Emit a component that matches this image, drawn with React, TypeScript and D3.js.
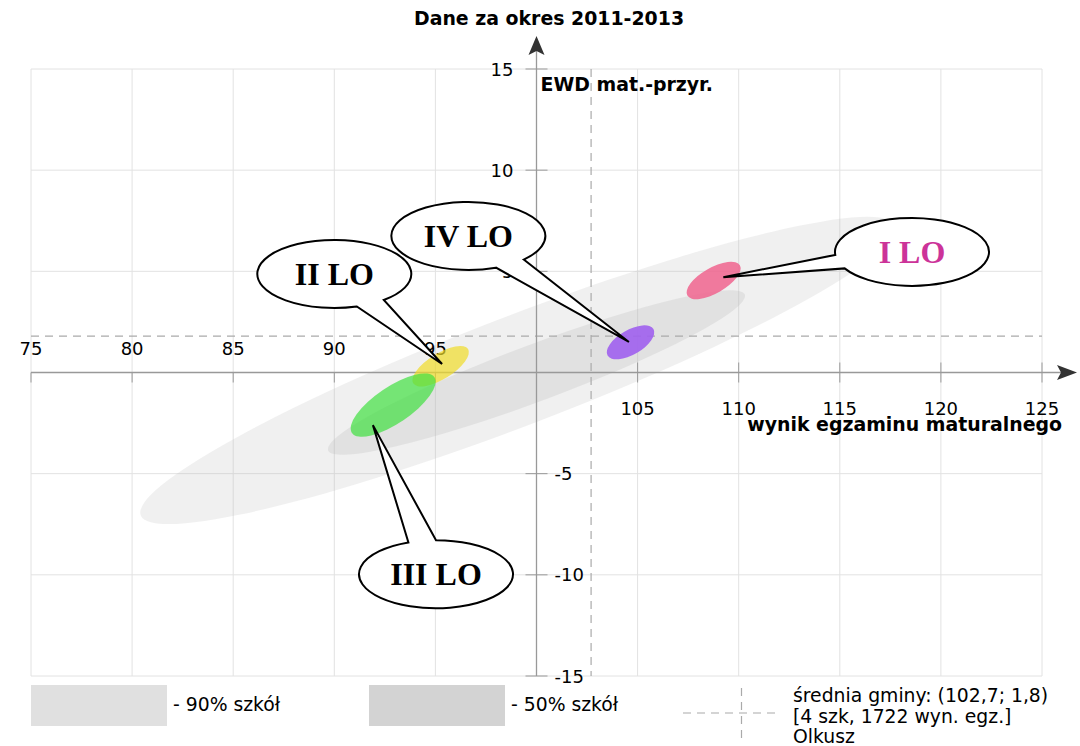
import React, { useEffect, useRef } from 'react';
import * as d3 from 'd3';

const W = 1080, H = 746;
const SANS = "'DejaVu Sans', sans-serif";
const SERIF = "'Liberation Serif', 'Times New Roman', serif";

// axes / grid
const GRID_X = [75, 80, 85, 90, 95, 100, 105, 110, 115, 120, 125];
const GRID_Y = [-15, -10, -5, 0, 5, 10, 15];
const X_TICKS = [75, 80, 85, 90, 95, 105, 110, 115, 120, 125];
const Y_TICKS = [15, 10, 5, -5, -10, -15];

// municipality mean
const MEAN_X = 102.7;
const MEAN_Y = 1.8;

// distribution ellipses (90% / 50% of schools)
const BAND_NAMES = ['90% szkół', '50% szkół'];
const BAND_CX = [99.1, 100.0];
const BAND_CY = [0.1, 0.0];
const BAND_A = [20.0, 11.0];
const BAND_B = [2.7, 1.4];
const BAND_ANGLE = [21, 20.5];

// schools
const SCHOOLS = ['I LO', 'II LO', 'III LO', 'IV LO'];
const SCHOOL_CX = [108.76, 95.26, 92.91, 104.65];
const SCHOOL_CY = [4.55, 0.31, -1.61, 1.49];
const SCHOOL_A = [1.5, 1.6, 2.46, 1.31];
const SCHOOL_B = [0.63, 0.63, 0.9, 0.61];
const SCHOOL_ANGLE = [30, 32, 34, 30];

// callouts
const LABEL_X = [118.57, 90.0, 95.03, 96.63];
const LABEL_Y = [5.96, 4.87, -9.97, 6.75];
const POINTER_X = [109.24, 95.33, 91.91, 104.57];
const POINTER_Y = [4.71, 0.42, -2.6, 1.51];

const SCHOOL_FILL = ['#f0648e', '#f0dc28', '#40e040', '#a060ee'];
const SCHOOL_OPACITY = [0.85, 0.7, 0.7, 0.9];
const TEXT_FILL = ['#cc3399', '#000', '#000', '#000'];
const TAIL_ANGLES = [[151, 175], [50, 73], [249, 270], [44, 69]];
const BUBBLE_RX = 77, BUBBLE_RY = 34;

export default function App() {
  const ref = useRef<SVGSVGElement | null>(null);

  useEffect(() => {
    const svg = d3.select(ref.current);
    svg.selectAll('*').remove();

    const x = d3.scaleLinear().domain([75, 125]).range([31, 1042]);
    const y = d3.scaleLinear().domain([-15, 15]).range([676, 69]);
    const x0 = x(100), y0 = y(0);

    const addEllipse = (g, cx, cy, a, b, angle) => {
      const px = x(cx), py = y(cy);
      return g.append('ellipse')
        .attr('cx', px).attr('cy', py)
        .attr('rx', x(cx + a) - px).attr('ry', py - y(cy + b))
        .attr('transform', `rotate(${-angle} ${px} ${py})`);
    };

    // Grid
    const grid = svg.append('g').attr('stroke', '#e2e2e2').attr('stroke-width', 1);
    GRID_X.forEach(v => grid.append('line')
      .attr('x1', x(v)).attr('x2', x(v)).attr('y1', y(-15)).attr('y2', y(15)));
    GRID_Y.forEach(v => grid.append('line')
      .attr('x1', x(75)).attr('x2', x(125)).attr('y1', y(v)).attr('y2', y(v)));

    // 90% / 50% bands
    const bands = svg.append('g');
    const bandOpacity = [0.22, 0.28];
    BAND_NAMES.forEach((_, i) => {
      addEllipse(bands, BAND_CX[i], BAND_CY[i], BAND_A[i], BAND_B[i], BAND_ANGLE[i])
        .attr('fill', '#bbbbbb').attr('fill-opacity', bandOpacity[i]);
    });

    // Mean lines
    const mean = svg.append('g').attr('stroke', '#aaa').attr('stroke-width', 1.2).attr('stroke-dasharray', '8,6');
    mean.append('line').attr('x1', x(75)).attr('x2', x(125)).attr('y1', y(MEAN_Y)).attr('y2', y(MEAN_Y));
    mean.append('line').attr('x1', x(MEAN_X)).attr('x2', x(MEAN_X)).attr('y1', y(15)).attr('y2', y(-15));

    // Axes
    const axes = svg.append('g');
    axes.append('line').attr('x1', x(75)).attr('x2', x(125) + 20).attr('y1', y0).attr('y2', y0)
      .attr('stroke', '#999').attr('stroke-width', 1.3);
    axes.append('line').attr('x1', x0).attr('x2', x0).attr('y1', y(-15)).attr('y2', y(15) - 18)
      .attr('stroke', '#999').attr('stroke-width', 1.3);
    const xt = x(125) + 35;
    axes.append('path')
      .attr('d', `M${xt},${y0} L${xt - 20},${y0 - 7.5} L${xt - 16},${y0} L${xt - 20},${y0 + 7.5} Z`)
      .attr('fill', '#333');
    const yt = y(15) - 33;
    axes.append('path')
      .attr('d', `M${x0},${yt} L${x0 - 8},${yt + 19} L${x0},${yt + 15} L${x0 + 8},${yt + 19} Z`)
      .attr('fill', '#333');

    const ticks = axes.append('g').attr('stroke', '#999').attr('stroke-width', 1);
    X_TICKS.forEach(v => ticks.append('line')
      .attr('x1', x(v)).attr('x2', x(v)).attr('y1', v < 100 ? y0 : y0 - 10).attr('y2', y0 + 10));
    Y_TICKS.forEach(v => ticks.append('line')
      .attr('x1', x0 - 11).attr('x2', x0 + 11).attr('y1', y(v)).attr('y2', y(v)));

    const labels = axes.append('g').attr('font-family', SANS).attr('font-size', 18).attr('fill', '#000');
    X_TICKS.forEach(v => labels.append('text')
      .attr('x', x(v)).attr('y', v < 100 ? y0 - 17.5 : y0 + 42)
      .attr('text-anchor', 'middle').text(v));
    Y_TICKS.forEach(v => labels.append('text')
      .attr('x', v > 0 ? x0 - 23 : x0 + 18).attr('y', y(v) + 6.5)
      .attr('text-anchor', v > 0 ? 'end' : 'start').text(v));

    // Schools
    const schools = svg.append('g');
    SCHOOLS.forEach((_, i) => {
      addEllipse(schools, SCHOOL_CX[i], SCHOOL_CY[i], SCHOOL_A[i], SCHOOL_B[i], SCHOOL_ANGLE[i])
        .attr('fill', SCHOOL_FILL[i]).attr('fill-opacity', SCHOOL_OPACITY[i]);
    });

    // Callouts
    const callouts = svg.append('g');
    SCHOOLS.forEach((name, i) => {
      const cx = x(LABEL_X[i]), cy = y(LABEL_Y[i]);
      const tx = x(POINTER_X[i]), ty = y(POINTER_Y[i]);
      const pt = (deg) => {
        const r = (deg * Math.PI) / 180;
        return [cx + BUBBLE_RX * Math.cos(r), cy + BUBBLE_RY * Math.sin(r)];
      };
      const [a1, a2] = TAIL_ANGLES[i];
      const p1 = pt(a1), p2 = pt(a2);
      callouts.append('path')
        .attr('d', `M${p2[0]},${p2[1]} A${BUBBLE_RX},${BUBBLE_RY} 0 1 1 ${p1[0]},${p1[1]} L${tx},${ty} Z`)
        .attr('fill', '#fff').attr('stroke', '#000').attr('stroke-width', 2).attr('stroke-linejoin', 'miter');
      callouts.append('text')
        .attr('x', cx).attr('y', cy + 11)
        .attr('text-anchor', 'middle')
        .attr('font-family', SERIF).attr('font-weight', 'bold').attr('font-size', 32)
        .attr('fill', TEXT_FILL[i])
        .text(name);
    });

    // Titles
    const titles = svg.append('g').attr('font-family', SANS).attr('font-weight', 'bold').attr('font-size', 18.9).attr('fill', '#000');
    titles.append('text').attr('x', 549).attr('y', 25).attr('text-anchor', 'middle').text('Dane za okres 2011-2013');
    titles.append('text').attr('x', x0 + 4).attr('y', y(15) + 22).text('EWD mat.-przyr.');
    titles.append('text').attr('x', 1062).attr('y', y0 + 58).attr('text-anchor', 'end').text('wynik egzaminu maturalnego');

    // Legend
    const legend = svg.append('g').attr('font-family', SANS).attr('font-size', 18.8).attr('fill', '#000');
    const legendFill = ['#e0e0e0', '#d3d3d3'];
    const legendX = [31, 369];
    BAND_NAMES.forEach((name, i) => {
      legend.append('rect').attr('x', legendX[i]).attr('y', 685).attr('width', 136).attr('height', 41).attr('fill', legendFill[i]);
      legend.append('text').attr('x', legendX[i] + 142).attr('y', 711).text(`- ${name}`);
    });
    const dash = legend.append('g').attr('stroke', '#aaa').attr('stroke-width', 1.2).attr('stroke-dasharray', '8,6');
    dash.append('line').attr('x1', 683).attr('x2', 776).attr('y1', 713).attr('y2', 713);
    dash.append('line').attr('x1', 741.5).attr('x2', 741.5).attr('y1', 688).attr('y2', 742);
    const meanLines = [
      `średnia gminy: (${String(MEAN_X).replace('.', ',')}; ${String(MEAN_Y).replace('.', ',')})`,
      '[4 szk, 1722 wyn. egz.]',
      'Olkusz',
    ];
    meanLines.forEach((t, i) => legend.append('text').attr('x', 793).attr('y', 702 + i * 20.5).text(t));
  }, []);

  return (
    <div style={{ position: 'absolute', left: 0, top: 0 }}>
      <svg ref={ref} width={W} height={H} style={{ display: 'block', background: '#fff' }} />
    </div>
  );
}
